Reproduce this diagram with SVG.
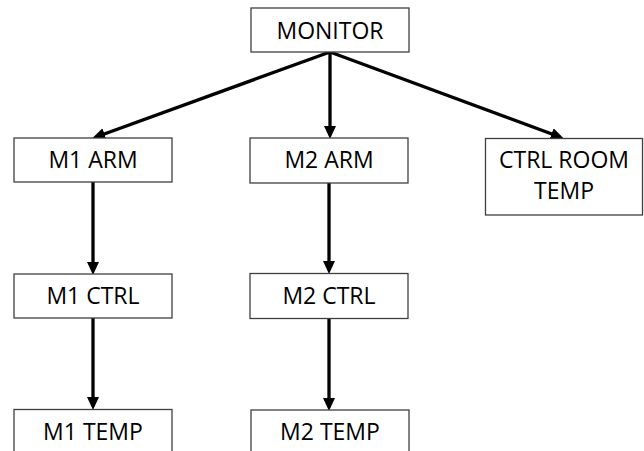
<svg xmlns="http://www.w3.org/2000/svg" width="644" height="451" viewBox="0 0 644 451">
<defs>
<marker id="ah" markerUnits="userSpaceOnUse" markerWidth="13" markerHeight="12" viewBox="0 0 13 12" refX="9" refY="6" orient="auto">
<path d="M0,0 L13,6 L0,12 z" fill="#000"/>
</marker>
<style>
.box{fill:#fff;stroke:#3f3f3f;stroke-width:1.3}
.lbl{font-family:"Open Sans","Noto Sans",sans-serif;font-size:23px;fill:#000;text-anchor:middle}
.edge{stroke:#000;stroke-width:3.3;fill:none;marker-end:url(#ah)}
</style>
</defs>
<rect width="644" height="451" fill="#fff"/>
<g id="connectors">
<line class="edge" x1="330" y1="52" x2="96" y2="137"/>
<line class="edge" x1="330" y1="52" x2="330" y2="135"/>
<line class="edge" x1="330" y1="52" x2="560" y2="137"/>
<line class="edge" x1="93" y1="182" x2="93" y2="271"/>
<line class="edge" x1="93" y1="318" x2="93" y2="406"/>
<line class="edge" x1="329" y1="183" x2="329" y2="270"/>
<line class="edge" x1="329" y1="318" x2="329" y2="407"/>
</g>
<g id="monitor">
<rect class="box" x="251" y="8" width="158" height="44"/>
<text class="lbl" x="330" y="39">MONITOR</text>
</g>
<g id="m1arm">
<rect class="box" x="14" y="138" width="158" height="44"/>
<text class="lbl" x="93" y="168">M1 ARM</text>
</g>
<g id="m2arm">
<rect class="box" x="250" y="138" width="158" height="45"/>
<text class="lbl" x="329" y="168">M2 ARM</text>
</g>
<g id="ctrlroomtemp">
<rect class="box" x="485.5" y="138.5" width="157" height="76.5"/>
<text class="lbl" x="564" y="168">CTRL ROOM</text>
<text class="lbl" x="564" y="199">TEMP</text>
</g>
<g id="m1ctrl">
<rect class="box" x="14" y="274" width="158" height="44"/>
<text class="lbl" x="93" y="304">M1 CTRL</text>
</g>
<g id="m2ctrl">
<rect class="box" x="250" y="273.5" width="158" height="45"/>
<text class="lbl" x="329" y="304">M2 CTRL</text>
</g>
<g id="m1temp">
<rect class="box" x="14" y="409.5" width="158" height="50"/>
<text class="lbl" x="93" y="439.5">M1 TEMP</text>
</g>
<g id="m2temp">
<rect class="box" x="251" y="410" width="158" height="50"/>
<text class="lbl" x="330" y="440">M2 TEMP</text>
</g>
</svg>
